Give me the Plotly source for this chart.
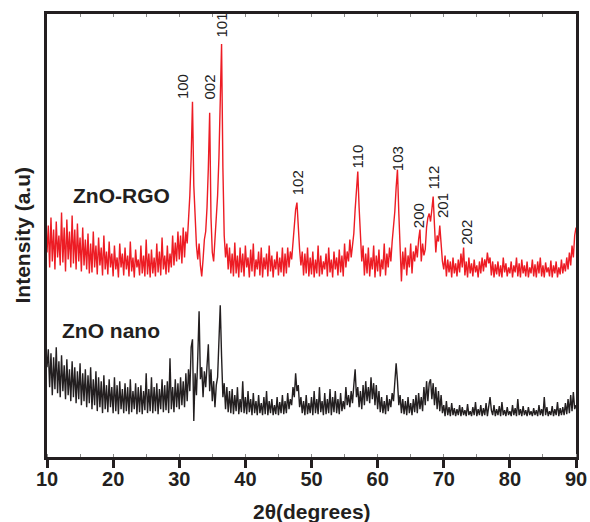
import numpy as np
import plotly.graph_objects as go

# 2-theta grid (degrees), 0.2 deg step
two_theta = np.round(np.linspace(10, 90, 401), 1)

# ZnO-RGO intensity (a.u., offset trace), one row = 2 degrees
zno_rgo = [
    205, 232, 190, 240, 196, 228, 188, 236, 200, 222,   # 10
    192, 245, 195, 230, 186, 238, 198, 226, 190, 242,   # 12
    194, 228, 188, 234, 196, 220, 186, 230, 192, 218,   # 14
    188, 224, 184, 214, 185, 226, 190, 212, 183, 220,   # 16
    192, 210, 182, 222, 188, 206, 183, 216, 190, 204,   # 18
    181, 212, 188, 200, 180, 214, 190, 204, 182, 210,   # 20
    188, 202, 181, 216, 186, 200, 180, 208, 190, 198,   # 22
    182, 212, 184, 202, 181, 218, 183, 204, 180, 208,   # 24
    184, 200, 181, 214, 185, 206, 182, 220, 188, 202,   # 26
    183, 212, 185, 204, 190, 222, 192, 215, 196, 226,   # 28
    198, 222, 194, 230, 200, 226, 214, 238, 262, 300,   # 30
    356, 272, 232, 212, 198, 214, 192, 181, 198, 218,   # 32
    226, 250, 290, 345, 240, 205, 196, 220, 238, 262,   # 34
    300, 372, 414, 290, 222, 200, 214, 188, 210, 184,   # 36
    204, 181, 215, 184, 202, 180, 210, 185, 204, 181,   # 38
    212, 190, 200, 180, 208, 186, 214, 181, 198, 188,   # 40
    206, 182, 210, 180, 200, 188, 204, 181, 212, 186,   # 42
    202, 180, 198, 188, 206, 182, 200, 185, 210, 181,   # 44
    204, 184, 210, 190, 206, 198, 218, 230, 248, 255,   # 46
    226, 208, 192, 206, 182, 204, 184, 210, 181, 200,   # 48
    183, 206, 180, 198, 184, 212, 181, 202, 183, 196,   # 50
    188, 204, 181, 210, 185, 198, 180, 206, 188, 200,   # 52
    182, 208, 185, 202, 181, 214, 190, 206, 196, 218,   # 54
    200, 215, 224, 248, 272, 286, 250, 218, 196, 212,   # 56
    182, 204, 184, 210, 181, 200, 188, 212, 180, 202,   # 58
    186, 208, 181, 198, 188, 214, 182, 204, 190, 210,   # 60
    196, 216, 228, 246, 270, 288, 245, 212, 176, 206,   # 62
    188, 210, 182, 202, 190, 214, 184, 206, 196, 212,   # 64
    200, 218, 228, 196, 214, 202, 208, 230, 240, 244,   # 66
    236, 248, 261, 232, 205, 222, 216, 232, 210, 196,   # 68
    188, 202, 181, 198, 185, 196, 180, 200, 184, 194,   # 70
    181, 198, 185, 204, 190, 210, 182, 196, 180, 200,   # 72
    184, 194, 181, 198, 185, 192, 180, 196, 184, 200,   # 74
    186, 198, 190, 205, 194, 200, 182, 196, 180, 193,   # 76
    183, 196, 181, 192, 180, 200, 185, 194, 181, 190,   # 78
    184, 196, 180, 192, 185, 200, 181, 194, 180, 198,   # 80
    184, 192, 181, 196, 180, 190, 184, 198, 181, 193,   # 82
    180, 196, 184, 200, 181, 192, 180, 195, 185, 190,   # 84
    181, 197, 180, 192, 184, 196, 180, 190, 183, 198,   # 86
    184, 194, 186, 200, 188, 205, 192, 212, 200, 222,   # 88
    230,                                                # 90
]

# ZnO nano intensity (a.u.)
zno_nano = [
    90, 108, 70, 104, 62, 100, 68, 110, 64, 96,         # 10
    60, 102, 66, 92, 58, 98, 62, 88, 56, 96,            # 12
    60, 90, 54, 86, 58, 94, 52, 84, 56, 88,             # 14
    50, 82, 54, 90, 48, 78, 52, 86, 46, 80,             # 16
    50, 76, 44, 82, 48, 72, 45, 78, 50, 70,             # 18
    44, 80, 46, 72, 43, 76, 48, 68, 44, 74,             # 20
    46, 70, 43, 78, 45, 66, 48, 74, 43, 70,             # 22
    45, 72, 43, 66, 47, 84, 44, 68, 46, 80,             # 24
    44, 70, 46, 74, 43, 68, 48, 78, 45, 72,             # 26
    47, 76, 44, 99, 48, 70, 45, 78, 50, 74,             # 28
    48, 80, 52, 76, 50, 84, 56, 88, 66, 110,            # 30
    118, 36, 84, 62, 100, 146, 78, 90, 60, 86,          # 32
    70, 100, 113, 66, 88, 56, 76, 50, 72, 80,           # 34
    120, 152, 101, 60, 74, 48, 70, 45, 66, 44,          # 36
    68, 43, 62, 46, 70, 43, 58, 45, 76, 44,             # 38
    60, 43, 66, 45, 58, 42, 64, 44, 56, 42,             # 40
    62, 44, 54, 42, 60, 43, 66, 42, 56, 44,             # 42
    58, 42, 52, 43, 60, 42, 55, 44, 62, 43,             # 44
    56, 44, 64, 48, 58, 52, 70, 60, 84, 66,             # 46
    72, 50, 60, 44, 56, 42, 62, 43, 54, 44,             # 48
    60, 42, 66, 44, 58, 43, 70, 45, 56, 42,             # 50
    64, 43, 58, 44, 68, 42, 60, 45, 66, 44,             # 52
    58, 43, 64, 46, 56, 48, 70, 52, 62, 50,             # 54
    66, 54, 72, 88, 60, 70, 50, 66, 48, 72,             # 56
    52, 76, 56, 70, 54, 80, 58, 74, 52, 72,             # 58
    48, 66, 45, 60, 44, 56, 43, 62, 46, 58,             # 60
    50, 64, 56, 72, 94, 76, 52, 62, 44, 58,             # 62
    43, 56, 42, 60, 44, 54, 42, 58, 45, 62,             # 64
    44, 64, 48, 60, 46, 70, 52, 76, 56, 74,             # 66
    78, 58, 74, 52, 70, 48, 66, 46, 62, 44,             # 68
    52, 41, 56, 42, 50, 41, 54, 42, 49, 41,             # 70
    48, 42, 52, 41, 50, 42, 47, 41, 53, 42,             # 72
    46, 41, 50, 42, 55, 41, 48, 42, 52, 41,             # 74
    49, 42, 54, 41, 50, 60, 47, 42, 52, 41,             # 76
    48, 42, 51, 41, 55, 42, 47, 41, 50, 42,             # 78
    46, 41, 52, 42, 49, 41, 58, 42, 48, 41,             # 80
    51, 42, 47, 41, 50, 42, 46, 41, 49, 42,             # 82
    47, 41, 52, 42, 48, 41, 60, 42, 50, 41,             # 84
    46, 42, 51, 41, 48, 42, 55, 41, 49, 42,             # 86
    50, 42, 54, 43, 58, 44, 62, 46, 65, 48,             # 88
    52,                                                 # 90
]

# hkl labels of ZnO-RGO peaks: label position (2theta, intensity)
hkl_labels = ["100", "002", "101", "102", "110", "103", "200", "112", "201", "202"]
hkl_label_2theta = [30.6, 34.6, 36.4, 47.9, 57.0, 63.0, 66.2, 68.5, 69.8, 73.4]
hkl_label_height = [371, 371, 433, 275, 301, 299, 242, 280, 252, 225]

sample_names = ["ZnO-RGO", "ZnO nano"]
sample_label_2theta = [21.3, 19.7]
sample_label_height = [262, 127]

RED = "#ed1c24"
DARK = "#231f20"
FONT = "Liberation Sans, Arial, sans-serif"

fig = go.Figure()
fig.add_trace(go.Scatter(x=two_theta, y=zno_nano, mode="lines",
                         line=dict(color=DARK, width=1.4), name="ZnO nano",
                         xaxis="x", yaxis="y"))
fig.add_trace(go.Scatter(x=two_theta, y=zno_rgo, mode="lines",
                         line=dict(color=RED, width=1.4), name="ZnO-RGO",
                         xaxis="x2", yaxis="y"))

annotations = []
for lab, tx, ty in zip(hkl_labels, hkl_label_2theta, hkl_label_height):
    annotations.append(dict(x=tx, y=ty, xref="x", yref="y", text=lab, showarrow=False,
                            textangle=-90, xanchor="center", yanchor="middle",
                            font=dict(family=FONT, size=15, color="#222222")))
for lab, tx, ty in zip(sample_names, sample_label_2theta, sample_label_height):
    annotations.append(dict(x=tx, y=ty, xref="x", yref="y", text="<b>%s</b>" % lab,
                            showarrow=False, xanchor="center", yanchor="middle",
                            font=dict(family=FONT, size=21, color=DARK)))
annotations.append(dict(x=0.5, y=0, xref="paper", yref="paper", text="<b>2θ(degrees)</b>",
                        showarrow=False, xanchor="center", yanchor="middle", yshift=-54,
                        font=dict(family=FONT, size=21, color=DARK)))
annotations.append(dict(x=0, y=0.5, xref="paper", yref="paper", text="<b>Intensity (a.u)</b>",
                        showarrow=False, textangle=-90, xanchor="center", yanchor="middle",
                        xshift=-25, font=dict(family=FONT, size=21, color=DARK)))

fig.update_layout(
    width=590, height=522,
    margin=dict(l=47, r=14, t=14, b=65, autoexpand=False),
    paper_bgcolor="white", plot_bgcolor="white",
    showlegend=False,
    annotations=annotations,
    xaxis=dict(range=[10, 90], showline=True, linewidth=3, linecolor=DARK, mirror=True,
               ticks="outside", ticklen=8, tickwidth=3, tickcolor=DARK, automargin=False,
               tick0=10, dtick=10, showgrid=False, zeroline=False, ticklabelstandoff=-6,
               tickfont=dict(family=FONT, size=20, color=DARK, weight="bold"),
               minor=dict(ticks="inside", ticklen=3, tickwidth=1, tickcolor="#888888", dtick=5, tick0=10,
                          showgrid=False)),
    xaxis2=dict(range=[10, 90], overlaying="x", side="top", showline=False, automargin=False,
                ticks="inside", ticklen=3, tickwidth=1, tickcolor="#888888",
                tick0=10, dtick=5, showticklabels=False, showgrid=False, zeroline=False),
    yaxis=dict(range=[0, 444], showline=True, linewidth=3, linecolor=DARK, mirror=True,
               automargin=False,
               ticks="", showticklabels=False, showgrid=False, zeroline=False),
)

fig.write_html("out.html")
